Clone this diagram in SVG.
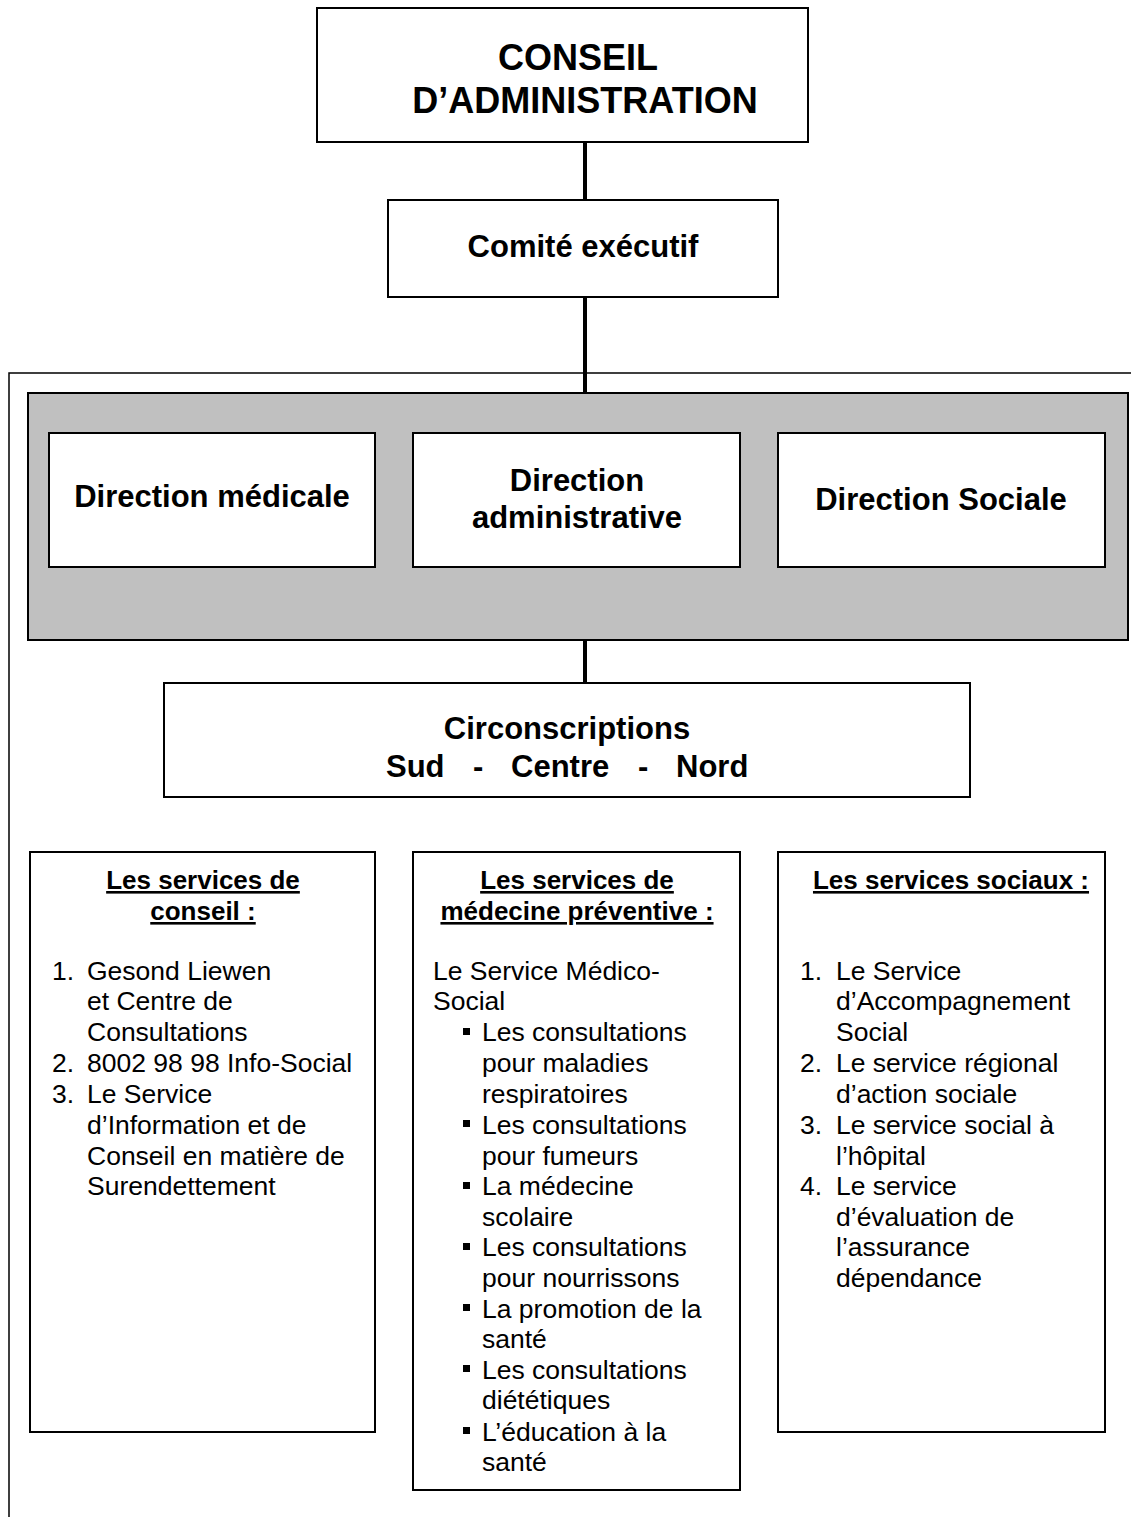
<svg xmlns="http://www.w3.org/2000/svg" width="1131" height="1517" viewBox="0 0 1131 1517">
<style>
.box{fill:#fff;stroke:#000;stroke-width:2}
.conn{stroke:#000;stroke-width:4;fill:none}
text{font-family:"Liberation Sans",Arial,sans-serif;fill:#000}
.b{font-weight:bold}
.t1{font-size:36px;font-weight:bold;text-anchor:middle}
.t2{font-size:31px;font-weight:bold;text-anchor:middle}
.h{font-size:26px;font-weight:bold;text-anchor:middle;text-decoration:underline}
.p{font-size:26.5px}
</style>
<rect width="1131" height="1517" fill="#fff"/>
<g id="frame">
<path d="M9,1517 V373 H1131" fill="none" stroke="#000" stroke-width="1.5"/>
</g>
<g id="directions-panel">
<rect x="28" y="393" width="1100" height="247" fill="#c0c0c0" stroke="#000" stroke-width="2"/>
</g>
<g id="connectors">
<line class="conn" x1="585" y1="142" x2="585" y2="200"/>
<line class="conn" x1="585" y1="297" x2="585" y2="393"/>
<line class="conn" x1="585" y1="640" x2="585" y2="683"/>
</g>
<g id="conseil">
<rect class="box" x="317" y="8" width="491" height="134"/>
<text class="t1" x="578" y="70">CONSEIL</text>
<text class="t1" x="585" y="113">D’ADMINISTRATION</text>
</g>
<g id="comite">
<rect class="box" x="388" y="200" width="390" height="97"/>
<text class="t2" x="583" y="257">Comité exécutif</text>
</g>
<g id="dir-medicale">
<rect class="box" x="49" y="433" width="326" height="134"/>
<text class="t2" x="212" y="507">Direction médicale</text>
</g>
<g id="dir-administrative">
<rect class="box" x="413" y="433" width="327" height="134"/>
<text class="t2" x="577" y="491">Direction</text>
<text class="t2" x="577" y="528">administrative</text>
</g>
<g id="dir-sociale">
<rect class="box" x="778" y="433" width="327" height="134"/>
<text class="t2" x="941" y="510">Direction Sociale</text>
</g>
<g id="circonscriptions">
<rect class="box" x="164" y="683" width="806" height="114"/>
<text class="t2" x="567" y="739">Circonscriptions</text>
<text class="b" font-size="31" x="386" y="777">Sud</text>
<text class="b" font-size="31" x="473" y="777">-</text>
<text class="b" font-size="31" x="511" y="777">Centre</text>
<text class="b" font-size="31" x="638" y="777">-</text>
<text class="b" font-size="31" x="676" y="777">Nord</text>
</g>
<g id="services-conseil">
<rect class="box" x="30" y="852" width="345" height="580"/>
<text class="h" x="203" y="889">Les services de</text>
<text class="h" x="203" y="920">conseil :</text>
<text class="p" x="52" y="980">1.</text>
<text class="p" x="87" y="980">Gesond Liewen</text>
<text class="p" x="87" y="1010">et Centre de</text>
<text class="p" x="87" y="1041">Consultations</text>
<text class="p" x="52" y="1072">2.</text>
<text class="p" x="87" y="1072">8002 98 98 Info-Social</text>
<text class="p" x="52" y="1103">3.</text>
<text class="p" x="87" y="1103">Le Service</text>
<text class="p" x="87" y="1134">d’Information et de</text>
<text class="p" x="87" y="1165">Conseil en matière de</text>
<text class="p" x="87" y="1195">Surendettement</text>
</g>
<g id="services-medecine">
<rect class="box" x="413" y="852" width="327" height="638"/>
<text class="h" x="577" y="889">Les services de</text>
<text class="h" x="577" y="920">médecine préventive :</text>
<text class="p" x="433" y="980">Le Service Médico-</text>
<text class="p" x="433" y="1010">Social</text>
<g fill="#000">
<rect x="463" y="1028" width="7" height="7"/>
<rect x="463" y="1120" width="7" height="7"/>
<rect x="463" y="1182" width="7" height="7"/>
<rect x="463" y="1243" width="7" height="7"/>
<rect x="463" y="1304" width="7" height="7"/>
<rect x="463" y="1365" width="7" height="7"/>
<rect x="463" y="1427" width="7" height="7"/>
</g>
<text class="p" x="482" y="1041">Les consultations</text>
<text class="p" x="482" y="1072">pour maladies</text>
<text class="p" x="482" y="1103">respiratoires</text>
<text class="p" x="482" y="1134">Les consultations</text>
<text class="p" x="482" y="1165">pour fumeurs</text>
<text class="p" x="482" y="1195">La médecine</text>
<text class="p" x="482" y="1226">scolaire</text>
<text class="p" x="482" y="1256">Les consultations</text>
<text class="p" x="482" y="1287">pour nourrissons</text>
<text class="p" x="482" y="1318">La promotion de la</text>
<text class="p" x="482" y="1348">santé</text>
<text class="p" x="482" y="1379">Les consultations</text>
<text class="p" x="482" y="1409">diététiques</text>
<text class="p" x="482" y="1441">L’éducation à la</text>
<text class="p" x="482" y="1471">santé</text>
</g>
<g id="services-sociaux">
<rect class="box" x="778" y="852" width="327" height="580"/>
<text class="h" x="951" y="889">Les services sociaux :</text>
<text class="p" x="800" y="980">1.</text>
<text class="p" x="836" y="980">Le Service</text>
<text class="p" x="836" y="1010">d’Accompagnement</text>
<text class="p" x="836" y="1041">Social</text>
<text class="p" x="800" y="1072">2.</text>
<text class="p" x="836" y="1072">Le service régional</text>
<text class="p" x="836" y="1103">d’action sociale</text>
<text class="p" x="800" y="1134">3.</text>
<text class="p" x="836" y="1134">Le service social à</text>
<text class="p" x="836" y="1165">l’hôpital</text>
<text class="p" x="800" y="1195">4.</text>
<text class="p" x="836" y="1195">Le service</text>
<text class="p" x="836" y="1226">d’évaluation de</text>
<text class="p" x="836" y="1256">l’assurance</text>
<text class="p" x="836" y="1287">dépendance</text>
</g>
</svg>
